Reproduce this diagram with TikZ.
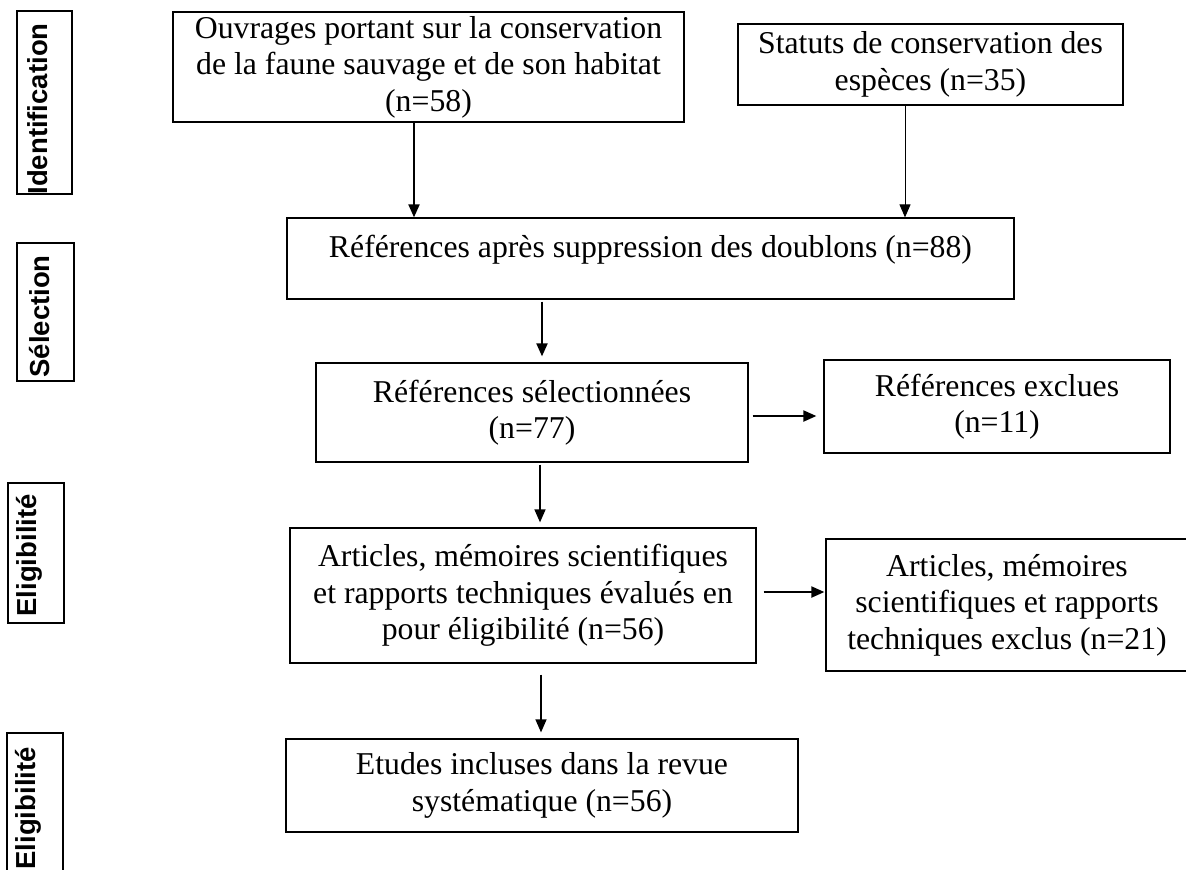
\documentclass[tikz,border=0pt]{standalone}
\usepackage{fontspec}
\setmainfont{Liberation Serif}
\setsansfont{Liberation Sans}
\usetikzlibrary{arrows.meta,positioning,calc}
\tikzset{
  stepbox/.style 2 args={draw=black,line width=0.5pt,inner sep=0pt,
    minimum width=#1*0.4pt,minimum height=#2*0.4pt,
    align=center,font=\fontsize{12.7}{14.6}\selectfont},
  stagebox/.style 2 args={draw=black,line width=0.55pt,inner sep=0pt,
    minimum width=#1*0.4pt,minimum height=#2*0.4pt},
  stagetxt/.style={rotate=90,anchor=base west,inner sep=0pt,
    font=\fontsize{11}{13}\sffamily\bfseries},
  flow/.style={-{Triangle[length=5.2pt,width=4.4pt]},line width=0.8pt},
}
\begin{document}
\begin{tikzpicture}[x=0.4pt,y=-0.4pt]
\useasboundingbox (0,0) rectangle (1186,869);
% stage labels on the left
\node[stagebox={55}{183}] (idbox) at (44.5,102.5) {};
\node[stagetxt] (idtxt) at (47,195) {Identification};
\node[stagebox={57}{138}] (selbox) at (45.5,312) {};
\node[stagetxt] (seltxt) at (49,378) {Sélection};
\node[stagebox={56}{140}] (eligbox) at (36,553) {};
\node[stagetxt] (eligtxt) at (36,617) {Eligibilité};
\node[stagebox={56}{170}] (inclbox) at (35,818) {};
\node[stagetxt] (incltxt) at (35,870) {Eligibilité};
% flow boxes
\node[stepbox={511}{110},line width=0.8pt] (works) at (428.5,67)
  {Ouvrages portant sur la conservation\\de la faune sauvage et de son habitat\\(n=58)};
\node[stepbox={385}{81},line width=0.8pt] (status) at (930.5,64.5)
  {Statuts de conservation des\\espèces (n=35)};
\node[stepbox={727}{81}] (dedup) at (650.5,258.5)
  {Références après suppression des doublons (n=88)\\[-4.8pt]\mbox{}};
\node[stepbox={432}{99}] (selected) at (532,412.5)
  {Références sélectionnées\\(n=77)};
\node[stepbox={346}{93}] (excluded) at (997,406.5)
  {Références exclues\\(n=11)};
\node[stepbox={466}{135}] (assessed) at (523,595.5)
  {Articles, mémoires scientifiques\\et rapports techniques évalués en\\pour éligibilité (n=56)};
\node[stepbox={362}{132}] (rejected) at (1007,605)
  {Articles, mémoires\\scientifiques et rapports\\techniques exclus (n=21)};
\node[stepbox={512}{93}] (included) at (542,785.5)
  {Etudes incluses dans la revue\\systématique (n=56)};
% connectors
\draw[flow] ($(works.south)+(-14.5,0)$) coordinate (w1) -- (w1 |- dedup.north);
\draw[flow,line width=0.4pt] ($(status.south)+(-25.5,0)$) coordinate (s1) -- (s1 |- dedup.north);
\draw[flow,shorten <=0.8pt,shorten >=2.4pt]
  ($(dedup.south)+(-108.5,0)$) coordinate (d1) -- (d1 |- selected.north);
\draw[flow,shorten <=1.6pt,shorten >=2.8pt]
  ($(selected.east)+(0,3.5)$) coordinate (r1) -- (r1 -| excluded.west);
\draw[flow,line width=0.6pt,shorten <=0.8pt,shorten >=2pt]
  ($(selected.south)+(8,0)$) coordinate (d2) -- (d2 |- assessed.north);
\draw[flow,shorten <=2.8pt,shorten >=0.4pt]
  ($(assessed.east)+(0,-3.5)$) coordinate (r2) -- (r2 -| rejected.west);
\draw[flow,line width=0.5pt,shorten <=4.4pt,shorten >=2.4pt]
  ($(assessed.south)+(18,0)$) coordinate (d3) -- (d3 |- included.north);
\end{tikzpicture}
\end{document}
